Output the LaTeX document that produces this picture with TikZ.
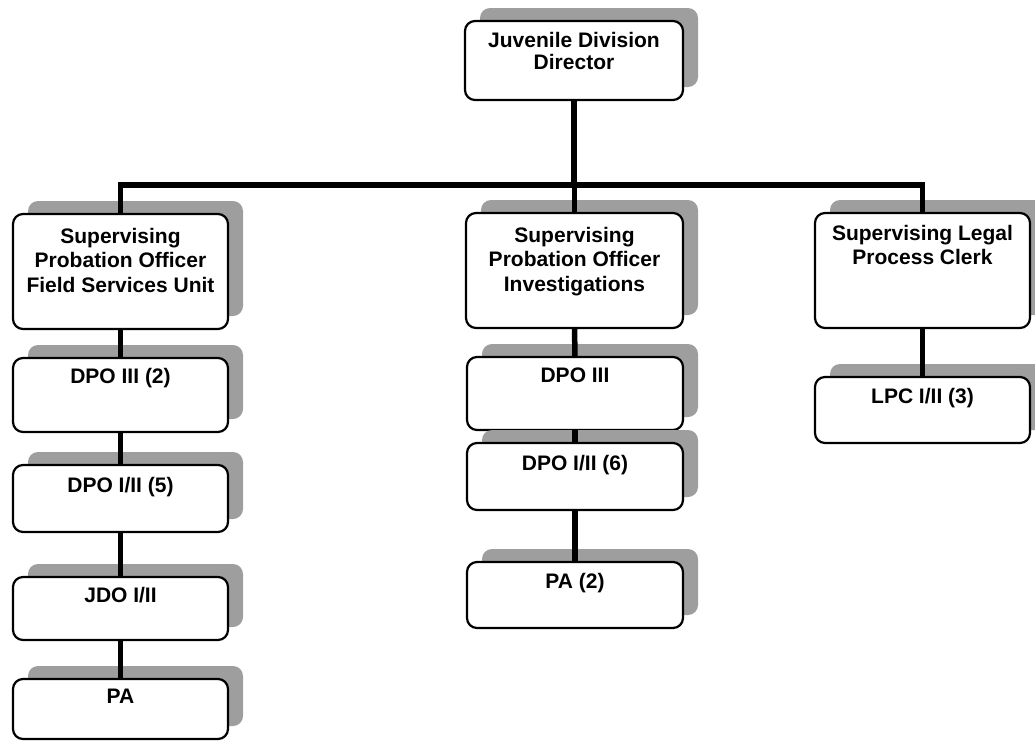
\documentclass[tikz,border=0pt]{standalone}
\usepackage{fontspec}
\setmainfont{Liberation Sans}
\usetikzlibrary{shadows}
\newcommand{\boxtext}[5]{\parbox[c][#2][t]{#1}{\centering\fontsize{21}{#5}\selectfont\bfseries\rule{0pt}{#3}#4\par}}
\tikzset{
  orgbox/.style={draw=black, line width=2.2pt, rounded corners=10pt, fill=white,
    inner sep=0pt, outer sep=0pt, anchor=north west,
    general shadow={fill=black!38, shadow xshift=15pt, shadow yshift=13pt}},
  link/.style={line width=5.5pt, black, line join=miter}
}
\begin{document}
\begin{tikzpicture}[x=1pt,y=-1pt]
\useasboundingbox (0,0) rectangle (1035,740);
% top
\node[orgbox] (jdd) at (465,21) {\boxtext{218pt}{79pt}{26pt}{Juvenile Division\\Director}{22}};
% second level
\node[orgbox] (spo1) at (13,214) {\boxtext{215pt}{115pt}{29pt}{Supervising\\Probation Officer\\Field Services Unit}{24.5}};
\node[orgbox] (spo2) at (466,213) {\boxtext{217pt}{115pt}{29pt}{Supervising\\Probation Officer\\Investigations}{24.5}};
\node[orgbox] (slpc) at (815,213) {\boxtext{215pt}{115pt}{27pt}{Supervising Legal\\Process Clerk}{24}};
% left column
\node[orgbox] (d3) at (13,358) {\boxtext{215pt}{74pt}{25pt}{DPO III (2)}{24}};
\node[orgbox] (d12) at (13,465) {\boxtext{215pt}{67pt}{27pt}{DPO I/II (5)}{24}};
\node[orgbox] (jdo) at (13,577) {\boxtext{215pt}{63pt}{25pt}{JDO I/II}{24}};
\node[orgbox] (pa) at (13,679) {\boxtext{215pt}{60pt}{24pt}{PA}{24}};
% middle column
\node[orgbox] (m3) at (467,357) {\boxtext{216pt}{73pt}{25pt}{DPO III}{24}};
\node[orgbox] (m12) at (467,443) {\boxtext{216pt}{67pt}{27pt}{DPO I/II (6)}{24}};
\node[orgbox] (pa2) at (467,562) {\boxtext{216pt}{66pt}{26pt}{PA (2)}{24}};
% right column
\node[orgbox] (lpc) at (815,377) {\boxtext{215pt}{66pt}{26pt}{LPC I/II (3)}{24}};
% connectors
\coordinate (bar) at (120,185);
\draw[link] (jdd.south) -- (jdd.south |- bar);
\draw[link] (spo1.north) -- (spo1.north |- bar) -- (slpc.north |- bar) -- (slpc.north);
\draw[link] (spo2.north |- bar) -- (spo2.north);
\draw[link] (spo1.south) -- (d3.north);
\draw[link] (d3.south) -- (d12.north);
\draw[link] (d12.south) -- (jdo.north);
\draw[link] (jdo.south) -- (pa.north);
\draw[link] (spo2.south) -- (m3.north);
\draw[link] (m3.south) -- (m12.north);
\draw[link] (m12.south) -- (pa2.north);
\draw[link] (slpc.south) -- (lpc.north);
\end{tikzpicture}
\end{document}
